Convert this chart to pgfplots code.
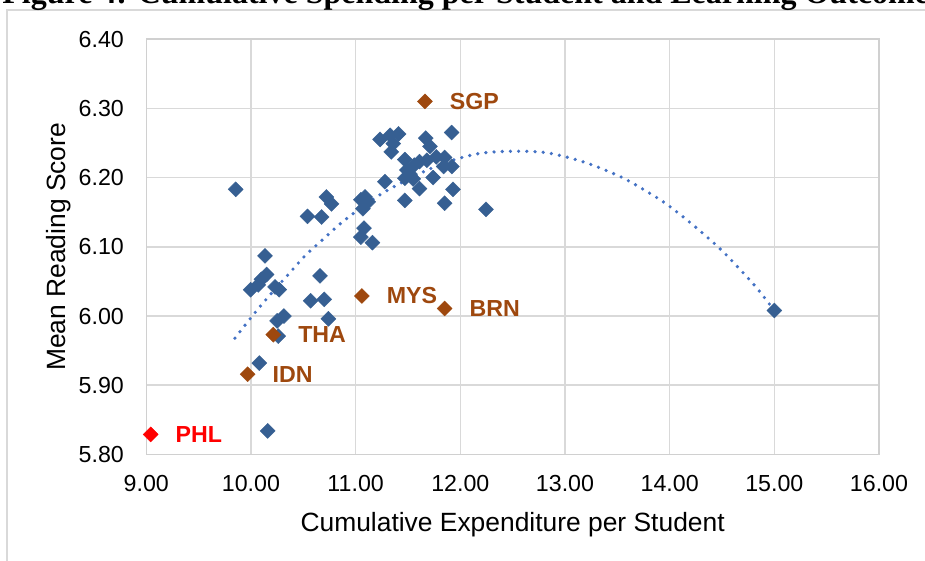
\documentclass[border=0pt]{standalone}
\usepackage{pgfplots}
\pgfplotsset{compat=1.18}
\usepackage{fontspec}
\setmainfont{Liberation Sans}
\newfontfamily\titlefont{Liberation Serif}
\definecolor{bluec}{RGB}{54,95,146}
\definecolor{orangec}{RGB}{158,72,14}
\definecolor{trendc}{RGB}{68,114,196}
\definecolor{gridc}{RGB}{217,217,217}
\definecolor{axisc}{RGB}{208,208,208}
\begin{document}
\begin{tikzpicture}
\useasboundingbox (0,0) rectangle (462.5pt,280.5pt);
\draw[gridc, line width=0.75pt] (3.5pt,-10pt) rectangle (480pt,275.5pt);
\node[anchor=base west, inner sep=0pt, font=\titlefont\bfseries\fontsize{16}{18}\selectfont] at (1pt,278.6pt) {Figure 4: Cumulative Spending per Student and Learning Outcomes};
\begin{axis}[
  at={(73.15pt,53.25pt)}, anchor=south west,
  scale only axis, width=366.35pt, height=207.7pt,
  xmin=9, xmax=16, ymin=5.8, ymax=6.4,
  xtick={9,10,11,12,13,14,15,16},
  ytick={5.8,5.9,6.0,6.1,6.2,6.3,6.4},
  grid=major,
  major grid style={gridc, line width=0.8pt},
  axis line style={axisc, line width=0.8pt},
  major tick length=0pt,
  tick style={draw=none},
  clip=false,
  /pgf/number format/fixed,
  /pgf/number format/fixed zerofill,
  /pgf/number format/precision=2,
  /pgf/number format/assume math mode=true,
  xticklabel style={font=\fontsize{11.6}{13}\selectfont, inner sep=0pt, anchor=north, yshift=-10.2pt},
  yticklabel style={font=\fontsize{11.6}{13}\selectfont, inner sep=0pt, anchor=east, xshift=-11pt},
  xlabel={Cumulative Expenditure per Student},
  ylabel={Mean Reading Score},
  xlabel style={font=\fontsize{13.2}{15}\selectfont, inner sep=0pt, at={(axis description cs:0.5,-0.1377)}, anchor=north},
  ylabel style={font=\fontsize{13.2}{15}\selectfont, inner sep=0pt, at={(axis description cs:-0.1373,0.5)}, anchor=north},
]
\addplot[only marks, mark=square*, mark size=2.65pt, mark options={rotate=45, fill=bluec, draw=bluec, line width=0.2pt}] coordinates {
(9.854,6.183) (10.134,6.087) (9.997,6.038) (10.10,6.053) (10.15,6.060)
(10.07,6.045) (10.23,6.042) (10.27,6.038) (10.66,6.058) (10.57,6.022)
(10.70,6.024) (10.315,6.000) (10.25,5.993) (10.74,5.996) (10.26,5.971)
(10.08,5.932) (10.16,5.834) (10.54,6.144) (10.675,6.143) (10.72,6.172)
(10.77,6.162) (11.05,6.168) (11.09,6.172) (11.12,6.165) (11.07,6.155)
(11.08,6.127) (11.05,6.114) (11.16,6.106) (11.28,6.194) (11.47,6.167)
(11.233,6.255) (11.33,6.261) (11.41,6.263) (11.34,6.237) (11.36,6.249)
(11.67,6.257) (11.71,6.245) (11.917,6.265) (11.47,6.226) (11.49,6.211)
(11.56,6.218) (11.61,6.223) (11.68,6.225) (11.77,6.230) (11.85,6.229)
(11.84,6.216) (11.92,6.216) (11.47,6.199) (11.74,6.200) (11.61,6.184)
(11.93,6.183) (11.85,6.163) (12.245,6.154) (15.0,6.008) (11.52,6.205)
(11.55,6.198)
};
\addplot[only marks, mark=square*, mark size=2.65pt, mark options={rotate=45, fill=orangec, draw=orangec, line width=0.2pt},
  point meta=explicit symbolic, nodes near coords,
  every node near coord/.append style={anchor=west, xshift=12.4pt, inner sep=0pt, text=orangec, font=\bfseries\fontsize{11.6}{13}\selectfont}]
 coordinates {
(11.662,6.310) [SGP]
(11.06,6.029) [MYS]
(11.85,6.011) [BRN]
(10.213,5.973) [THA]
(9.968,5.916) [IDN]
};
\addplot[only marks, mark=square*, mark size=2.65pt, mark options={rotate=45, fill=red, draw=red, line width=0.2pt},
  point meta=explicit symbolic, nodes near coords,
  every node near coord/.append style={anchor=west, xshift=12.4pt, inner sep=0pt, text=red, font=\bfseries\fontsize{11.6}{13}\selectfont}]
 coordinates {
(9.042,5.829) [PHL]
};
\addplot[trendc, line width=1.8pt, line cap=round, dash pattern=on 0pt off 4.1pt, smooth, tension=0.5] coordinates {
(9.847,5.968) (9.997,5.997) (10.15,6.025) (10.356,6.060) (10.516,6.087)
(10.69,6.111) (10.866,6.135) (11.12,6.164) (11.32,6.183) (11.6,6.205) (11.885,6.223)
(12.19,6.235) (12.505,6.238) (12.82,6.236) (13.126,6.225) (13.35,6.213)
(13.56,6.199) (13.77,6.181) (13.967,6.162) (14.155,6.140) (14.336,6.117)
(14.51,6.093) (14.674,6.067) (14.83,6.041) (15.0,6.008)
};
\end{axis}
\end{tikzpicture}
\end{document}
